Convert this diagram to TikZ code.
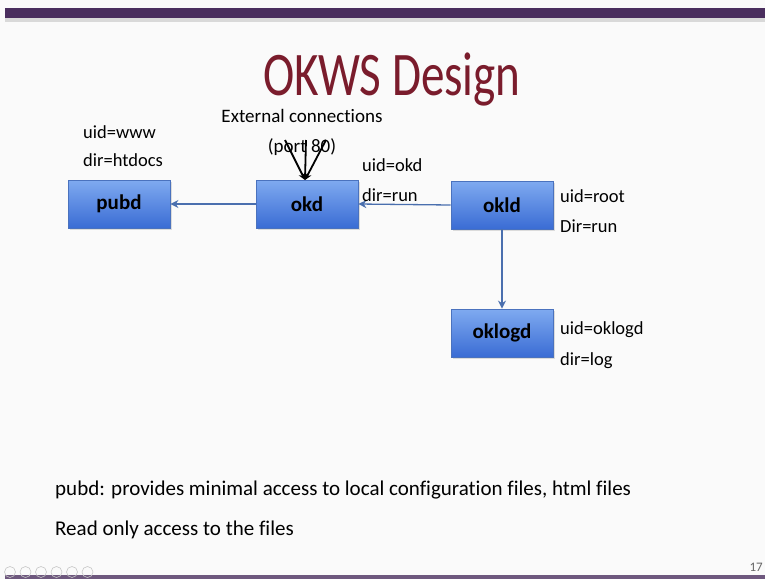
\documentclass[tikz,border=0pt]{standalone}
\usepackage{fontspec}
\setmainfont{Carlito}[Ligatures=NoCommon]
\usetikzlibrary{arrows.meta,shadows}
\definecolor{bg}{HTML}{FAFAFA}
\definecolor{barpurple}{HTML}{4A2E5E}
\definecolor{titlered}{HTML}{7A1C2C}
\definecolor{boxtop}{HTML}{7FAAF0}
\definecolor{boxbot}{HTML}{3A6CD4}
\definecolor{boxedge}{HTML}{4A72BE}
\definecolor{arrowblue}{HTML}{4A6FAE}
\tikzset{
  x=1pt,y=-1pt,
  procbox/.style={draw=boxedge,line width=0.8pt,top color=boxtop,bottom color=boxbot,
    minimum width=102pt,minimum height=48pt,inner sep=0pt,
    font=\fontsize{21}{24}\selectfont\bfseries,
    drop shadow={shadow xshift=1.5pt,shadow yshift=-2pt,opacity=0.25}},
  lbl/.style={anchor=west,inner sep=0pt,font=\fontsize{18.5}{22}\selectfont},
  flow/.style={draw=arrowblue,line width=1.3pt,-{Stealth[length=8pt,width=8pt]}},
  ext/.style={draw=black,line width=1.8pt},
  navc/.style={draw=black!22,line width=0.6pt}
}
\begin{document}
\begin{tikzpicture}
\useasboundingbox (0,0) rectangle (765,579);
\fill[bg] (0,0) rectangle (765,579);
% top bar
\fill[black!15] (5,18) rectangle (765,22);
\fill[barpurple] (5,8) rectangle (765,18);
% bottom bar
\fill[barpurple!80] (5,575) rectangle (765,579);
% title
\node[text=titlered,inner sep=0pt,xscale=0.76,font=\fontsize{62}{68}\selectfont] (title) at (392,79) {OKWS Design};
% boxes
\node[procbox] (pubd) at (119,204) {pubd};
\node[procbox] (okd) at (307,204) {okd};
\node[procbox] (okld) at (502,205) {okld};
\node[procbox] (oklogd) at (502,333) {oklogd};
% arrows
\draw[flow] (okd.west) -- (pubd.east);
\draw[flow] (okld.west) -- (okd.east);
\draw[flow] (okld.south) -- (oklogd.north);
% external connections
\node[inner sep=0pt,font=\fontsize{19}{22}\selectfont] (extlbl) at (302,116) {External connections};
\node[inner sep=0pt,font=\fontsize{19}{22}\selectfont] (portlbl) at (302,147) {(port 80)};
\coordinate (e1) at (285,140);
\coordinate (e2) at (306,140);
\coordinate (e3) at (326,140);
\coordinate (tip) at (305,180);
\draw[ext,-{Stealth[length=7pt,width=7pt]}] (e1) -- (tip);
\draw[ext,-{Stealth[length=7pt,width=7pt]}] (e2) -- (tip);
\draw[ext,-{Stealth[length=7pt,width=7pt]}] (e3) -- (tip);
% labels
\node[lbl] (l1) at (83,132) {uid=www};
\node[lbl] (l2) at (83,160) {dir=htdocs};
\node[lbl] (l3) at (362,165) {uid=okd};
\node[lbl] (l4) at (362,195) {dir=run};
\node[lbl] (l5) at (560,196) {uid=root};
\node[lbl] (l6) at (560,226) {Dir=run};
\node[lbl] (l7) at (560,330) {uid=oklogd};
\node[lbl] (l8) at (560,361) {dir=log};
% bottom text
\node[anchor=west,inner sep=0pt,font=\fontsize{21}{26}\selectfont] (b1) at (55,490) {pubd: provides minimal access to local configuration files, html files};
\node[anchor=west,inner sep=0pt,font=\fontsize{21}{26}\selectfont] (b2) at (55,530) {Read only access to the files};
% nav icons and page number
\foreach \i in {0,...,5} {\draw[navc] (10+\i*15.5,572) circle (5.5);}
\node[anchor=east,inner sep=0pt,text=black!60,font=\fontsize{13}{15}\selectfont] (pg) at (763,567) {17};
\end{tikzpicture}
\end{document}
